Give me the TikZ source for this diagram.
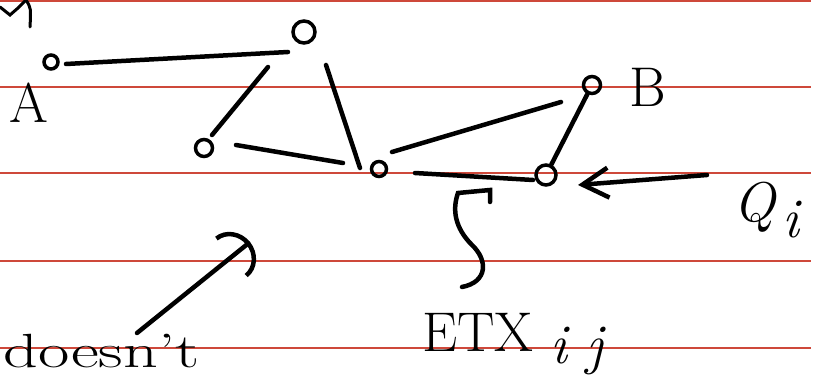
\documentclass[tikz,border=0pt]{standalone}
\usepackage{fontspec}
\usepackage{tikz}
\usetikzlibrary{arrows.meta}
\definecolor{rulered}{RGB}{206,72,58}

\begin{document}
\begin{tikzpicture}[x=1pt,y=-1pt,
  ink/.style={line width=4.5pt,line cap=round},
  vtx/.style={circle,draw,line width=3.5pt,inner sep=0pt},
  hand/.style={font=\fontsize{56}{56}\selectfont}]
\useasboundingbox (0,0) rectangle (828,379);
\foreach \y in {1,87,173,261,348}
  \draw[rulered,line width=2.5pt](0,\y)--(811,\y);
\node[vtx,minimum size=14pt](A)at(51,62){};
\node[vtx,minimum size=22pt](T)at(304,32){};
\node[vtx,minimum size=17pt](L)at(204,148){};
\node[vtx,minimum size=15pt](C)at(379,169){};
\node[vtx,minimum size=17pt](B)at(592,85){};
\node[vtx,minimum size=20pt](R)at(546,175){};
\node[hand](Alab)at(29,103){A};
\node[hand](Blab)at(648,87){B};
\node[hand,anchor=base west,inner sep=0pt](Qlab)at(733,222){\textit{Q}\kern6pt\raisebox{-16pt}{\textit{i}}};
\node[hand,anchor=base west,inner sep=0pt](etx)at(422,352){ETX\ \raisebox{-12pt}{\textit{i j}}};
\node[hand,font=\fontsize{48}{48}\selectfont,anchor=base west,inner sep=0pt](neg)at(3,368){\scalebox{1.42}[1]{doesn't}};
\coordinate (hook) at (490,202);
\coordinate (p) at (137,333);
\coordinate (q) at (250,242);
\draw[ink,line width=3pt](0,7)--(10,15)--(18,8)--(25,1);
\draw[ink,line width=3pt](26,0)..controls(31,8)..(30,27);
\draw[ink]([shift={(15,2)}]A.center)--([shift={(-16,20)}]T.center);
\draw[ink]([shift={(-36,35)}]T.center)--([shift={(8,-13)}]L.center);
\draw[ink]([shift={(22,33)}]T.center)--([shift={(-19,-1)}]C.center);
\draw[ink]([shift={(32,-3)}]L.center)--([shift={(-36,-6)}]C.center);
\draw[ink]([shift={(13,-17)}]C.center)--([shift={(-31,17)}]B.center);
\draw[ink](B)--(R);
\draw[ink]([shift={(36,4)}]C.center)--([shift={(-13,5)}]R.center);
\draw[ink,-{Straight Barb[length=26pt,width=30pt]}]([shift={(-26,-47)}]Qlab.base west)--([shift={(32,10)}]R.center);
\draw[ink](hook)--(490,190)--(458,193)..controls(452,210)and(455,228)..(472,245)
  ..controls(488,260)and(488,282)..([shift={(40,-65)}]etx.base west);
\draw[ink,-{Arc Barb[length=24pt,width=52pt]}](p)--(q);
\end{tikzpicture}
\end{document}
